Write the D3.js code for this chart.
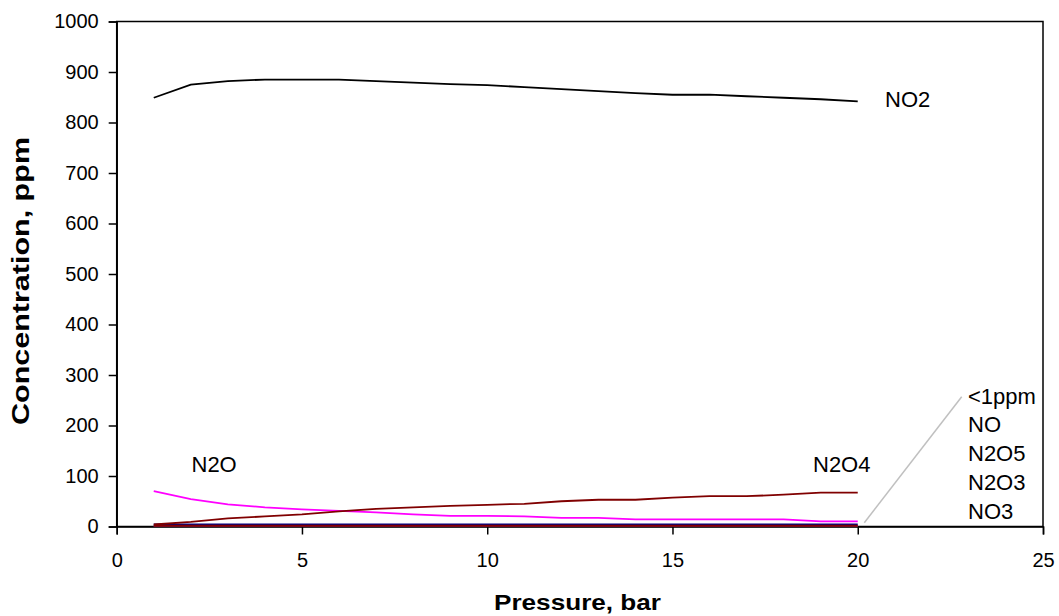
<!DOCTYPE html>
<meta charset="utf-8">
<script src="https://d3js.org/d3.v7.min.js"></script>
<style>
	body{
		margin:0;
		background:#fff;
		font-family: 'Liberation Sans', Arial, sans-serif;
	}
	.lbl{
		font-size:22px;
		fill:#000;
	}
</style>
<div id="chart"></div>

<script>

var pressure = [1,2,3,4,5,6,7,8,9,10,11,12,13,14,15,16,17,18,19,20]
var no2 = [849,875,882,885,885,885,882,879,876,874,870,866,862,858,855,855,852,849,846,842]
var n2o4 = [4,9,16,20,24,30,35,38,41,43,45,50,53,53,57,60,60,63,67,67]
var n2o = [70,54,44,38,34,31,28,24,21,21,20,17,17,14,14,14,14,14,10,10]
var no = [4.4,4.4,4.4,4.4,4.4,4.4,4.4,4.4,4.4,4.4,4.4,4.4,4.4,4.4,4.4,4.4,4.4,4.4,4.4,4.4]
var n2o3 = [1,1,1,1,1,1,1,1,1,1,1,1,1,1,1,1,1,1,1,1]
var no3 = [1,1,1,1,1,1,1,1,1,1,1,1,1,1,1,1,1,1,1,1]
var n2o5 = [1.6,1.6,1.6,1.6,1.6,1.6,1.6,1.6,1.6,1.6,1.6,1.6,1.6,1.6,1.6,1.6,1.6,1.6,1.6,1.6]

var xTicks = [0,5,10,15,20,25]
var yTicks = [0,100,200,300,400,500,600,700,800,900,1000]
var smallLabels = ["<1ppm","NO","N2O5","N2O3","NO3"]

var w = 1059
var h = 616
var mLeft = 116.7, mRight = 1043, mTop = 21.5, mBottom = 526.5

var svg = d3.select("#chart").append("svg").attr("width",w).attr("height",h)

var x = d3.scaleLinear().domain([0,25]).range([mLeft,mRight])
var y = d3.scaleLinear().domain([0,1000]).range([mBottom,mTop])

// frame
svg.append("rect")
	.attr("x",mLeft).attr("y",mTop)
	.attr("width",mRight-mLeft).attr("height",mBottom-mTop)
	.attr("fill","none").attr("stroke","#000").attr("stroke-width",1.5)

var xAxis = svg.append("g").attr("transform","translate(0,"+mBottom+")")
	.call(d3.axisBottom(x).tickValues(xTicks).tickSize(8).tickPadding(18).tickFormat(d3.format("d")))
var yAxis = svg.append("g").attr("transform","translate("+mLeft+",0)")
	.call(d3.axisLeft(y).tickValues(yTicks).tickSize(8).tickPadding(10).tickFormat(d3.format("d")))
svg.selectAll(".domain").attr("stroke","#000").attr("stroke-width",1.5)
svg.selectAll(".tick line").attr("stroke","#000").attr("stroke-width",1.5)
svg.selectAll(".tick text")
	.attr("font-family","'Liberation Sans', Arial, sans-serif")
	.attr("font-size",20)
	.attr("fill","#000")

// axis titles
svg.append("text").text("Pressure, bar")
	.attr("x",577.5).attr("y",610)
	.attr("text-anchor","middle")
	.attr("textLength",167).attr("lengthAdjust","spacingAndGlyphs")
	.style("font-size","22px").style("font-weight","bold")
svg.append("text").text("Concentration, ppm")
	.attr("transform","translate(29,281) rotate(-90)")
	.attr("text-anchor","middle")
	.attr("textLength",288).attr("lengthAdjust","spacingAndGlyphs")
	.style("font-size","24px").style("font-weight","bold")

var line = d3.line()
	.x(function(d,i){return x(pressure[i])})
	.y(function(d){return y(d)})

var series = [
	{vals:n2o3, color:"#008080", width:1.5},
	{vals:no3, color:"#800080", width:1.5},
	{vals:no, color:"#000080", width:1.6},
	{vals:n2o5, color:"#800000", width:2},
	{vals:n2o, color:"#ff00ff", width:1.8},
	{vals:n2o4, color:"#800000", width:1.8},
	{vals:no2, color:"#000000", width:1.8}
]

svg.append("g").selectAll("path").data(series).join("path")
	.attr("d",function(d){return line(d.vals)})
	.attr("fill","none")
	.attr("stroke",function(d){return d.color})
	.attr("stroke-width",function(d){return d.width})

// labels
svg.append("text").attr("class","lbl").text("NO2").attr("x",885).attr("y",106.7)
svg.append("text").attr("class","lbl").text("N2O").attr("x",191.5).attr("y",471.7)
svg.append("text").attr("class","lbl").text("N2O4").attr("x",813).attr("y",471.7)

svg.append("line")
	.attr("x1",864.3).attr("y1",522.7).attr("x2",961.7).attr("y2",396.7)
	.attr("stroke","#c0c0c0").attr("stroke-width",1.5)

svg.selectAll(".small").data(smallLabels).enter().append("text")
	.attr("class","lbl small")
	.attr("x",968)
	.attr("y",function(d,i){return 403.5+i*28.75})
	.text(function(d){return d})

</script>
